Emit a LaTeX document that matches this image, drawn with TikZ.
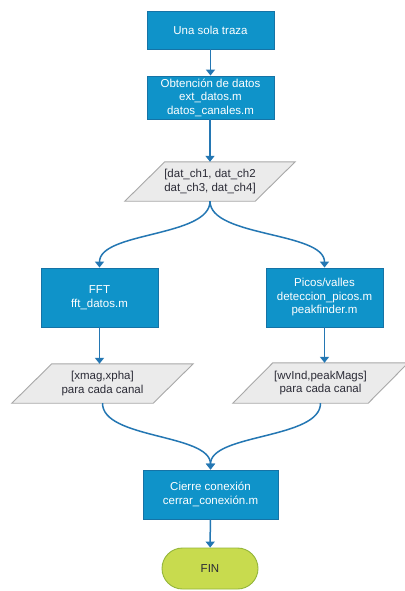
\documentclass[tikz,border=0pt]{standalone}
\usepackage{fontspec}
\setmainfont{Liberation Sans}
\usetikzlibrary{arrows.meta,backgrounds,shapes.misc}

\definecolor{boxfill}{HTML}{0F93C9}
\definecolor{boxline}{HTML}{1573A6}
\definecolor{flowc}{HTML}{2477B3}
\definecolor{iofill}{HTML}{EBEBEB}
\definecolor{ioline}{HTML}{A8A8A8}
\definecolor{iotxt}{HTML}{2B2B36}
\definecolor{finfill}{HTML}{C8DB4E}
\definecolor{finline}{HTML}{94B63A}

\tikzset{
  txt/.style={font=\fontsize{11.5}{13.5}\selectfont, align=center, inner sep=0pt},
  process/.style={txt, draw=boxline, fill=boxfill, line width=0.9pt, text=white},
  iotext/.style={txt, text=iotxt},
  iobox/.style={draw=ioline, fill=iofill, line width=0.9pt},
  terminal/.style={txt, rounded rectangle, draw=finline, fill=finfill, line width=0.9pt, text=iotxt},
  flow/.style={draw=flowc, line width=1.5pt, -{Triangle[width=9pt,length=6pt]}},
  curve/.style={flow, out=-90, in=90, out distance=36pt, in distance=36pt}
}

% slanted input/output box behind a text node (#1 = node, #2 = half of the slant)
\newcommand\parallelio[2]{%
  \begin{scope}[on background layer]
    \path[iobox] ([xshift=#2]#1.north west) -- ([xshift=#2]#1.north east)
      -- ([xshift=-#2]#1.south east) -- ([xshift=-#2]#1.south west) -- cycle;
  \end{scope}}

\begin{document}
\begin{tikzpicture}[x=1pt, y=-1pt]
  \begin{scope}[on background layer]
    \fill[white] (0,0) rectangle (404,591);
  \end{scope}
  \useasboundingbox (0,0) rectangle (404,591);

  \node[process, minimum width=127pt, minimum height=38pt] (traza) at (210.5,30) {Una sola traza};
  \node[process, minimum width=127pt, minimum height=43pt] (datos) at (210.5,97.5)
    {Obtención de datos\\ext\_datos.m\\datos\_canales.m};

  \node[iotext, minimum width=130pt, minimum height=39pt] (canales) at (210,181.5)
    {[dat\_ch1, dat\_ch2\\dat\_ch3, dat\_ch4]};
  \parallelio{canales}{20pt}

  \node[process, minimum width=117pt, minimum height=59pt] (fft) at (99.5,297.5)
    {FFT\\fft\_datos.m};
  \node[process, minimum width=117pt, minimum height=59pt] (picos) at (324.5,297.5)
    {Picos/valles\\deteccion\_picos.m\\peakfinder.m};

  \node[iotext, minimum width=141pt, minimum height=39pt] (xmag) at (102.5,383.5)
    {[xmag,xpha]\\para cada canal};
  \parallelio{xmag}{20pt}
  \node[iotext, minimum width=135pt, minimum height=40pt] (peaks) at (320.5,383)
    {[wvInd,peakMags]\\para cada canal};
  \parallelio{peaks}{20pt}

  \node[process, minimum width=135pt, minimum height=49pt] (cierre) at (210.5,494.5)
    {Cierre conexión\\cerrar\_conexión.m};
  \node[terminal, minimum width=96pt, minimum height=41pt] (fin) at (210,568.5) {FIN};

  % connectors
  \draw[flow] (traza) -- (datos);
  \draw[flow] (datos.south -| canales.north) -- (canales.north);
  \draw[curve] (canales.south) to (fft.north);
  \draw[curve] (canales.south) to (picos.north);
  \draw[flow] (fft) -- (xmag.north -| fft.south);
  \draw[flow] (picos) -- (peaks.north -| picos.south);
  \draw[curve] (xmag.south) to (cierre.north);
  \draw[curve] (peaks.south) to (cierre.north);
  \draw[flow] (cierre) -- (fin);
\end{tikzpicture}
\end{document}
